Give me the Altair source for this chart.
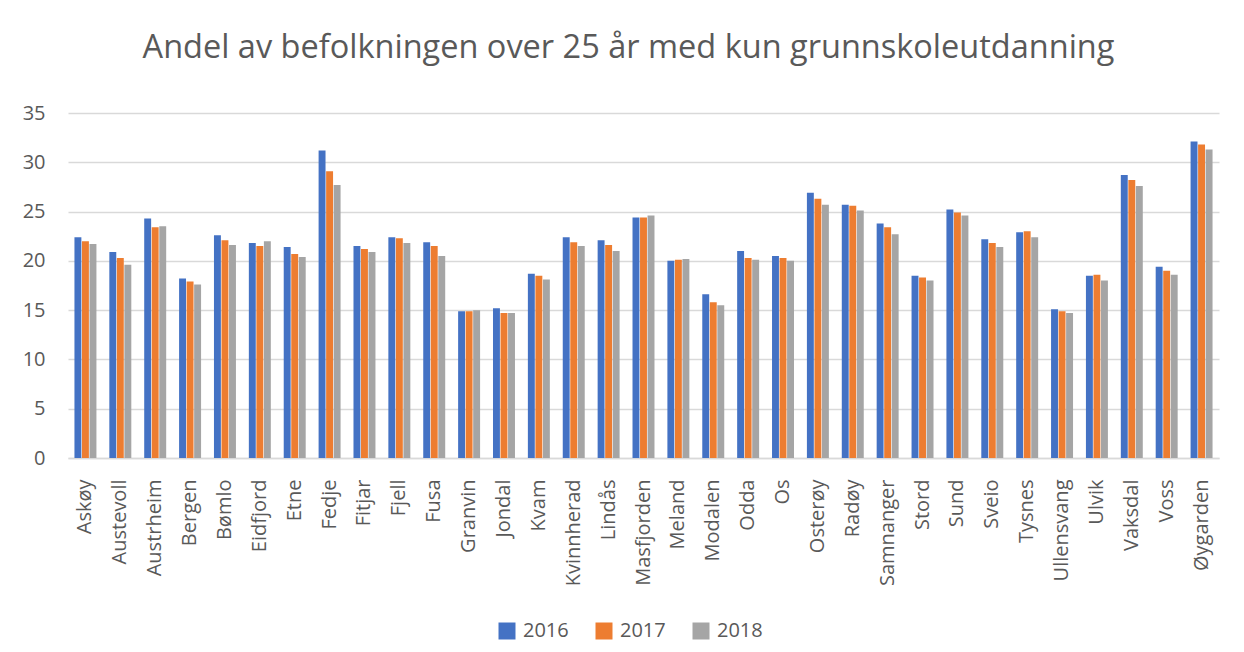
import altair as alt
import pandas as pd

kommuner = ["Askøy", "Austevoll", "Austrheim", "Bergen", "Bømlo", "Eidfjord", "Etne",
            "Fedje", "Fitjar", "Fjell", "Fusa", "Granvin", "Jondal", "Kvam", "Kvinnherad",
            "Lindås", "Masfjorden", "Meland", "Modalen", "Odda", "Os", "Osterøy", "Radøy",
            "Samnanger", "Stord", "Sund", "Sveio", "Tysnes", "Ullensvang", "Ulvik",
            "Vaksdal", "Voss", "Øygarden"]
v2016 = [22.4, 20.9, 24.3, 18.2, 22.6, 21.8, 21.4, 31.2, 21.5, 22.4, 21.9, 14.9, 15.2, 18.7, 22.4,
         22.1, 24.4, 20.0, 16.6, 21.0, 20.5, 26.9, 25.7, 23.8, 18.5, 25.2, 22.2, 22.9, 15.1, 18.5,
         28.7, 19.4, 32.1]
v2017 = [22.0, 20.3, 23.4, 17.9, 22.1, 21.5, 20.7, 29.1, 21.2, 22.3, 21.5, 14.9, 14.7, 18.5, 21.9,
         21.6, 24.4, 20.1, 15.8, 20.3, 20.3, 26.3, 25.6, 23.4, 18.3, 24.9, 21.8, 23.0, 14.9, 18.6,
         28.2, 19.0, 31.8]
v2018 = [21.7, 19.6, 23.5, 17.6, 21.6, 22.0, 20.4, 27.7, 20.9, 21.8, 20.5, 15.0, 14.7, 18.1, 21.5,
         21.0, 24.6, 20.2, 15.5, 20.1, 20.0, 25.7, 25.1, 22.7, 18.0, 24.6, 21.4, 22.4, 14.7, 18.0,
         27.6, 18.6, 31.3]
years = ["2016", "2017", "2018"]
colors = ["#4472C4", "#ED7D31", "#A5A5A5"]

rows = []
for yr, vals in zip(years, [v2016, v2017, v2018]):
    for k, v in zip(kommuner, vals):
        rows.append({"Kommune": k, "År": yr, "Andel": v})
df = pd.DataFrame(rows)

FONT = "Open Sans"
GREY = "#595959"

chart = alt.Chart(df).mark_bar().encode(
    x=alt.X("Kommune:N", sort=kommuner, title=None,
            scale=alt.Scale(paddingInner=0.37, paddingOuter=0.185),
            axis=alt.Axis(labelAngle=270, labelAlign="right", labelBaseline="middle",
                          labelPadding=21, ticks=False, domainColor="#D9D9D9",
                          domainWidth=1.5, labelFontSize=20, labelColor=GREY,
                          labelFont=FONT)),
    xOffset=alt.XOffset("År:N", sort=years, scale=alt.Scale(paddingInner=0.08)),
    y=alt.Y("Andel:Q", title=None, scale=alt.Scale(domain=[0, 35], nice=False),
            axis=alt.Axis(values=[0, 5, 10, 15, 20, 25, 30, 35], domain=False, ticks=False,
                          labelPadding=23, labelFontSize=20, labelColor=GREY, labelFont=FONT,
                          gridColor="#D9D9D9", gridWidth=1.5)),
    color=alt.Color("År:N", sort=years, scale=alt.Scale(domain=years, range=colors),
                    legend=alt.Legend(title=None, orient="none", direction="horizontal",
                                      legendX=429, legendY=508, symbolType="square",
                                      symbolSize=289, symbolStrokeWidth=0,
                                      labelFontSize=20, labelColor=GREY, labelFont=FONT,
                                      columnPadding=25, labelOffset=6)),
).properties(
    width=1151,
    height=345,
    title=alt.Title("Andel av befolkningen over 25 år med kun grunnskoleutdanning",
                    fontSize=32.5, font=FONT, fontWeight="normal", color=GREY,
                    anchor="middle", offset=39, dx=-15),
    autosize=alt.AutoSizeParams(type="none"),
    padding={"left": 60, "top": 105, "right": 17, "bottom": 186},
).configure_view(stroke=None)

chart.save("out.html", embed_options={"renderer": "svg", "actions": False})
